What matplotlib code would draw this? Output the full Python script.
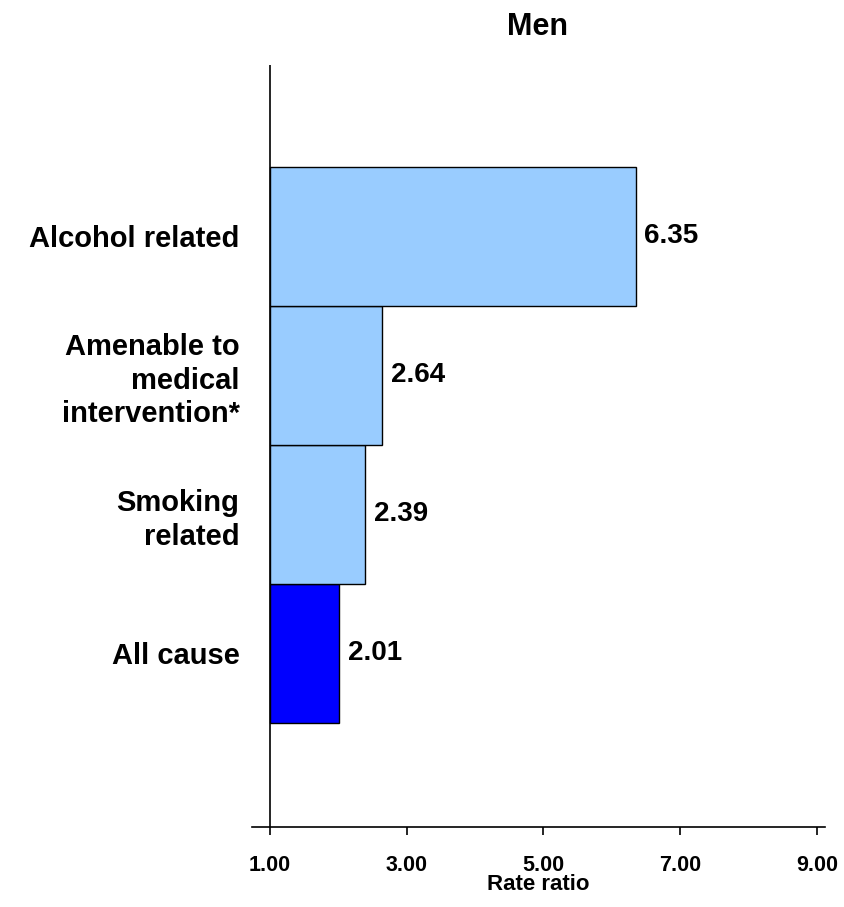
import matplotlib.pyplot as plt

plt.rcParams['font.family'] = ['Liberation Sans', 'DejaVu Sans']

# Daten
causes = ['All cause', 'Smoking\nrelated', 'Amenable to\nmedical\nintervention*', 'Alcohol related']
ratios = [2.01, 2.39, 2.64, 6.35]
colors = ['#0000FF', '#99CCFF', '#99CCFF', '#99CCFF']
xticks = [1, 3, 5, 7, 9]

fig = plt.figure(figsize=(8.44, 9.07), dpi=100)
ax = fig.add_axes([0.2986, 0.0882, 0.6789, 0.8401])

pos = list(range(len(causes)))
ax.barh(pos, [r - 1 for r in ratios], left=1, height=1.0, color=colors,
        edgecolor='black', linewidth=1)
for p, r in zip(pos, ratios):
    ax.text(r + 0.13, p, f'{r:.2f}', va='center', ha='left', fontsize=20, fontweight='bold')

ax.axvline(1, color='black', linewidth=1.2)
ax.set_xlim(0.74, 9.12)
ax.set_ylim(-1.25, 4.23)
for s in ['top', 'right', 'left']:
    ax.spines[s].set_visible(False)
ax.spines['bottom'].set_linewidth(1.2)

ax.set_xticks(xticks)
ax.set_xticklabels([f'{t:.2f}' for t in xticks], fontsize=15.5, fontweight='bold')
ax.tick_params(axis='x', direction='out', length=6, width=1.2, pad=14)
ax.set_yticks(pos)
ax.set_yticklabels(causes, fontsize=21, fontweight='bold', ha='right', linespacing=1.25)
ax.tick_params(axis='y', length=0, pad=9)
ax.set_xlabel('Rate ratio', fontsize=16, fontweight='bold', labelpad=-1)
fig.text(0.637, 0.97, 'Men', ha='center', va='center', fontsize=22, fontweight='bold')

fig.savefig('out.png')
